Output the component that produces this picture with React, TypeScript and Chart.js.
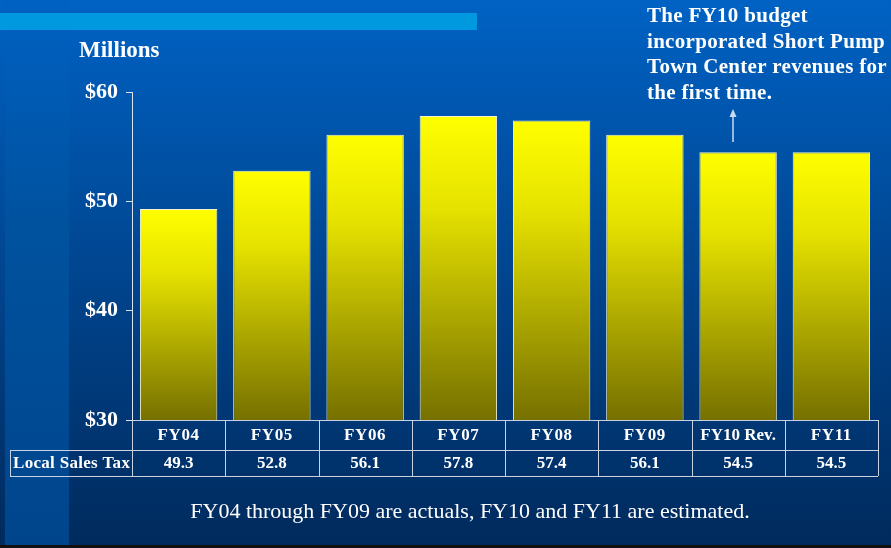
import React, { useEffect, useRef } from "react";
import { Chart, registerables } from "chart.js";

Chart.register(...registerables);

const categories = ["FY04", "FY05", "FY06", "FY07", "FY08", "FY09", "FY10 Rev.", "FY11"];
const salesTax = [49.3, 52.8, 56.1, 57.8, 57.4, 56.1, 54.5, 54.5];
const rowLabel = "Local Sales Tax";
const yTicks = [30, 40, 50, 60];
const axisTitle = "Millions";
const noteLines = ["The FY10 budget", "incorporated Short Pump", "Town Center revenues for", "the first time."];
const caption = "FY04 through FY09 are actuals, FY10 and FY11 are estimated.";

const SERIF = "'Liberation Serif', 'Times New Roman', serif";

const decorPlugin = {
  id: "decor",
  beforeDraw(chart: any) {
    const { ctx, width, height } = chart;
    ctx.save();
    const g = ctx.createLinearGradient(0, 0, 0, height);
    g.addColorStop(0, "#0062c4");
    g.addColorStop(0.5, "#00458f");
    g.addColorStop(1, "#002a5c");
    ctx.fillStyle = g;
    ctx.fillRect(0, 0, width, height);
    const g2 = ctx.createLinearGradient(0, 0, 0, height);
    g2.addColorStop(0, "#0061c2");
    g2.addColorStop(0.4, "#00529f");
    g2.addColorStop(1, "#00458c");
    ctx.fillStyle = g2;
    ctx.fillRect(5, 0, 64, height);
    ctx.fillStyle = "#0099e0";
    ctx.fillRect(0, 13, 477, 17);
    ctx.fillStyle = "#111111";
    ctx.fillRect(0, 545, width, 3);
    ctx.restore();
  },
  afterDraw(chart: any) {
    const { ctx, chartArea } = chart;
    const x = chart.scales.x;
    const n = categories.length;
    const left = chartArea.left;
    const right = chartArea.right;
    const step = (right - left) / n;
    const top = chartArea.bottom;
    const mid = top + 30;
    const bot = mid + 26;
    ctx.save();
    ctx.strokeStyle = "#c8d2e2";
    ctx.lineWidth = 1;
    ctx.beginPath();
    ctx.moveTo(left, top + 0.5);
    ctx.lineTo(right, top + 0.5);
    ctx.moveTo(10, mid + 0.5);
    ctx.lineTo(right, mid + 0.5);
    ctx.moveTo(10, bot + 0.5);
    ctx.lineTo(right, bot + 0.5);
    ctx.moveTo(10.5, mid);
    ctx.lineTo(10.5, bot);
    for (let i = 0; i <= n; i++) {
      const xx = Math.round(left + i * step) + 0.5;
      ctx.moveTo(xx, top);
      ctx.lineTo(xx, bot);
    }
    ctx.stroke();

    ctx.fillStyle = "#ffffff";
    ctx.textAlign = "center";
    ctx.textBaseline = "middle";
    categories.forEach((c, i) => {
      const cx = x.getPixelForValue(i);
      ctx.font = `bold 17px ${SERIF}`;
      (ctx as any).letterSpacing = c.length <= 4 ? "0.6px" : "0px";
      ctx.fillText(c, cx, top + 16);
      (ctx as any).letterSpacing = "0px";
      ctx.fillText(salesTax[i].toFixed(1), cx, mid + 14);
    });
    ctx.font = `bold 17px ${SERIF}`;
    ctx.textAlign = "left";
    (ctx as any).letterSpacing = "0.3px";
    ctx.fillText(rowLabel, 13, mid + 14);
    (ctx as any).letterSpacing = "0px";

    ctx.font = `bold 23px ${SERIF}`;
    ctx.textAlign = "left";
    ctx.fillText(axisTitle, 79, 51);

    ctx.font = `bold 21px ${SERIF}`;
    (ctx as any).letterSpacing = "0.3px";
    noteLines.forEach((l, i) => ctx.fillText(l, 647, 17 + i * 25.5));
    (ctx as any).letterSpacing = "0px";

    ctx.strokeStyle = "#c8dcf0";
    ctx.fillStyle = "#c8dcf0";
    ctx.lineWidth = 1.5;
    ctx.beginPath();
    ctx.moveTo(733, 142);
    ctx.lineTo(733, 114);
    ctx.stroke();
    ctx.beginPath();
    ctx.moveTo(733, 109);
    ctx.lineTo(729.5, 117);
    ctx.lineTo(736.5, 117);
    ctx.closePath();
    ctx.fill();

    ctx.fillStyle = "#ffffff";
    ctx.font = `22px ${SERIF}`;
    ctx.textAlign = "center";
    ctx.fillText(caption, 470, 512);
    ctx.restore();
  },
};

export default function App() {
  const ref = useRef<HTMLCanvasElement>(null);
  useEffect(() => {
    const chart = new Chart(ref.current!, {
      type: "bar",
      data: {
        labels: categories,
        datasets: [
          {
            data: salesTax,
            barPercentage: 0.83,
            categoryPercentage: 1,
            borderWidth: 1,
            borderColor: "#f4f4d0",
            borderSkipped: "bottom",
            backgroundColor: (ctx: any) => {
              const chart = ctx.chart;
              const ys = chart.scales?.y;
              if (!ys || !chart.chartArea || ctx.raw == null) return "#ffff00";
              const t = ys.getPixelForValue(ctx.raw);
              const b = ys.getPixelForValue(yTicks[0]);
              const g = chart.ctx.createLinearGradient(0, t, 0, b);
              g.addColorStop(0, "#ffff00");
              g.addColorStop(0.3, "#e6e200");
              g.addColorStop(1, "#767000");
              return g;
            },
          },
        ],
      },
      options: {
        animation: false,
        responsive: false,
        maintainAspectRatio: false,
        layout: { padding: { left: 0, right: 13, top: 92, bottom: 128 } },
        plugins: { legend: { display: false }, tooltip: { enabled: false } },
        scales: {
          x: { display: false },
          y: {
            min: yTicks[0],
            max: yTicks[yTicks.length - 1],
            afterFit: (s: any) => {
              s.width = 132;
            },
            afterBuildTicks: (s: any) => {
              s.ticks = yTicks.map((v) => ({ value: v }));
            },
            ticks: {
              color: "#ffffff",
              font: { family: SERIF, size: 22, weight: "bold" },
              padding: 8,
              callback: (v: any) => `$${v}`,
            },
            grid: {
              drawOnChartArea: false,
              drawTicks: true,
              tickLength: 6,
              color: "#dde4ee",
            },
            border: { display: true, color: "#dde4ee", width: 1 },
          },
        },
      },
      plugins: [decorPlugin],
    });
    return () => chart.destroy();
  }, []);
  return (
    <div style={{ position: "fixed", left: 0, top: 0, width: 891, height: 548 }}>
      <canvas ref={ref} width={891} height={548} style={{ width: 891, height: 548, display: "block" }} />
    </div>
  );
}
